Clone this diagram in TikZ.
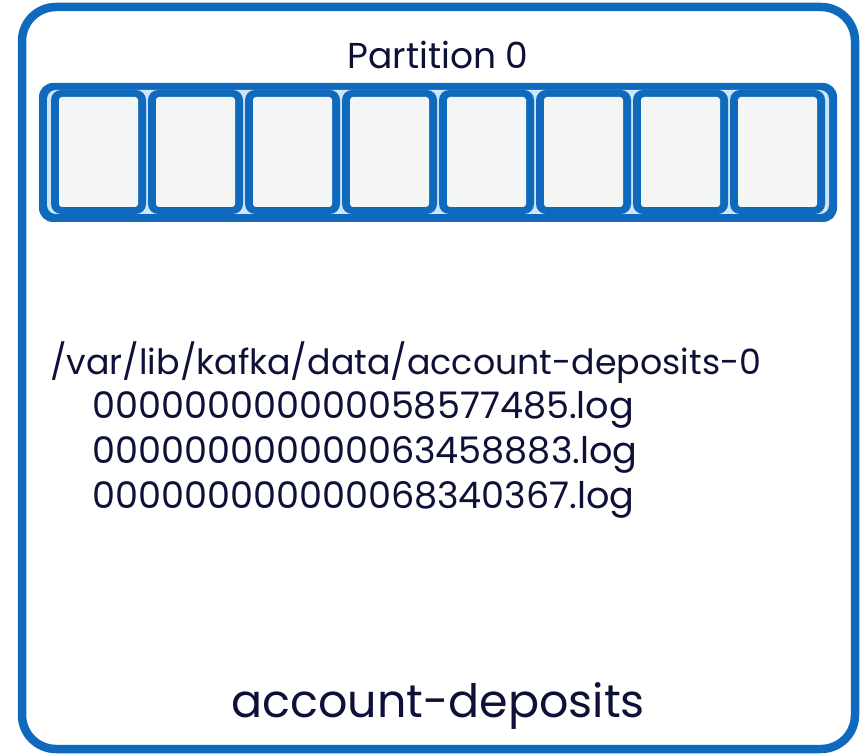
\documentclass[tikz,border=0pt]{standalone}
\usepackage{fontspec}
\setmainfont{Poppins}
\definecolor{kblue}{HTML}{0F69BD}
\definecolor{klight}{HTML}{CDE5F4}
\definecolor{kcell}{HTML}{F4F6F6}
\definecolor{kink}{HTML}{0E1137}
\tikzset{
  frame/.style={draw=kblue, line width=8.5pt, rounded corners=34pt},
  slot/.style={fill=kblue, rounded corners=10pt},
  slotface/.style={fill=kcell, rounded corners=3pt},
  label/.style={text=kink, inner sep=0pt},
  pathtext/.style={label, anchor=base west, font=\fontsize{34.8}{42}\selectfont},
  segtext/.style={label, anchor=base west, font=\fontsize{36.6}{42}\selectfont},
}
\begin{document}
\begin{tikzpicture}[x=1pt,y=-1pt]
\useasboundingbox (0,0) rectangle (865,754);
% topic box
\draw[frame] (22,7) rectangle (855,749);
% partition strip
\fill[kblue, rounded corners=14pt] (39,83) rectangle (837,222);
\fill[klight, rounded corners=9pt] (47,90) rectangle (829,214);
\foreach \i in {0,...,7}{
  \fill[slot] ({51+97*\i},90) rectangle ({146+97*\i},214);
  \fill[slotface] ({59+97*\i},97) rectangle ({138+97*\i},207);
}
% labels
\node[label, anchor=base, font=\fontsize{36}{42}\selectfont] (title) at (438,69) {Partition 0};
\node[pathtext] (dir) at (50,374) {/var/lib/kafka/data/account-deposits-0};
\node[segtext] (seg1) at (92,418) {000000000000058577485.log};
\node[segtext] (seg2) at (92,463) {000000000000063458883.log};
\node[segtext] (seg3) at (92,508) {000000000000068340367.log};
\node[label, anchor=base, font=\fontsize{46}{54}\selectfont] (topic) at (438,717) {account-deposits};
\end{tikzpicture}
\end{document}
